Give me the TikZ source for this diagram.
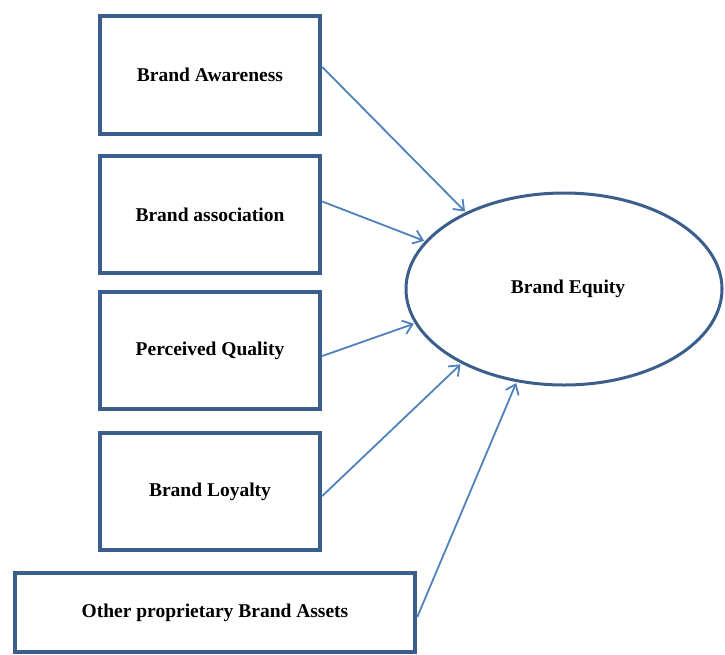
\documentclass[tikz,border=0pt]{standalone}
\usepackage{fontspec}
\setmainfont{Liberation Serif}
\usetikzlibrary{shapes.geometric,arrows.meta}
\definecolor{boxblue}{HTML}{3B5E8C}
\definecolor{arrowblue}{HTML}{4F81BD}
\begin{document}
\begin{tikzpicture}[x=1pt,y=-1pt,
  label font/.style={font=\fontsize{19.5}{22}\selectfont\bfseries,text=black},
  factor/.style={draw=boxblue,line width=4.5pt,fill=white,inner sep=0pt,label font},
  outcome/.style={ellipse,draw=boxblue,line width=3pt,fill=white,inner sep=0pt,
    minimum width=316pt,minimum height=192pt,label font},
  link/.style={draw=arrowblue,line width=1.8pt,shorten >=1pt,
    -{Straight Barb[length=9pt,width=14pt]}}]
\useasboundingbox (0,0) rectangle (725,654);

% contributing dimensions
\node[factor,minimum width=220pt,minimum height=118pt] (aw) at (210,75) {Brand Awareness};
\node[factor,minimum width=220pt,minimum height=117pt] (as) at (210,214.5) {Brand association};
\node[factor,minimum width=220pt,minimum height=117pt] (pq) at (210,350.5) {Perceived Quality};
\node[factor,minimum width=220pt,minimum height=117pt] (bl) at (210,491.5) {Brand Loyalty};
\node[factor,minimum width=400pt,minimum height=79pt] (ot) at (215,612.5) {Other proprietary Brand Assets};

% brand equity
\node[outcome] (eq) at (564,289) {\hspace*{8pt}Brand Equity};

% influences
\draw[link] ([yshift=8pt]aw.east) -- (eq.142);
\draw[link] ([yshift=13pt]as.east) -- (eq.161);
\draw[link] ([yshift=-5.5pt]pq.east) -- (eq.193.5);
\draw[link] ([yshift=-4.5pt]bl.east) -- (eq.216);
\draw[link] ([yshift=-4.5pt]ot.east) -- (eq.243);
\end{tikzpicture}
\end{document}
